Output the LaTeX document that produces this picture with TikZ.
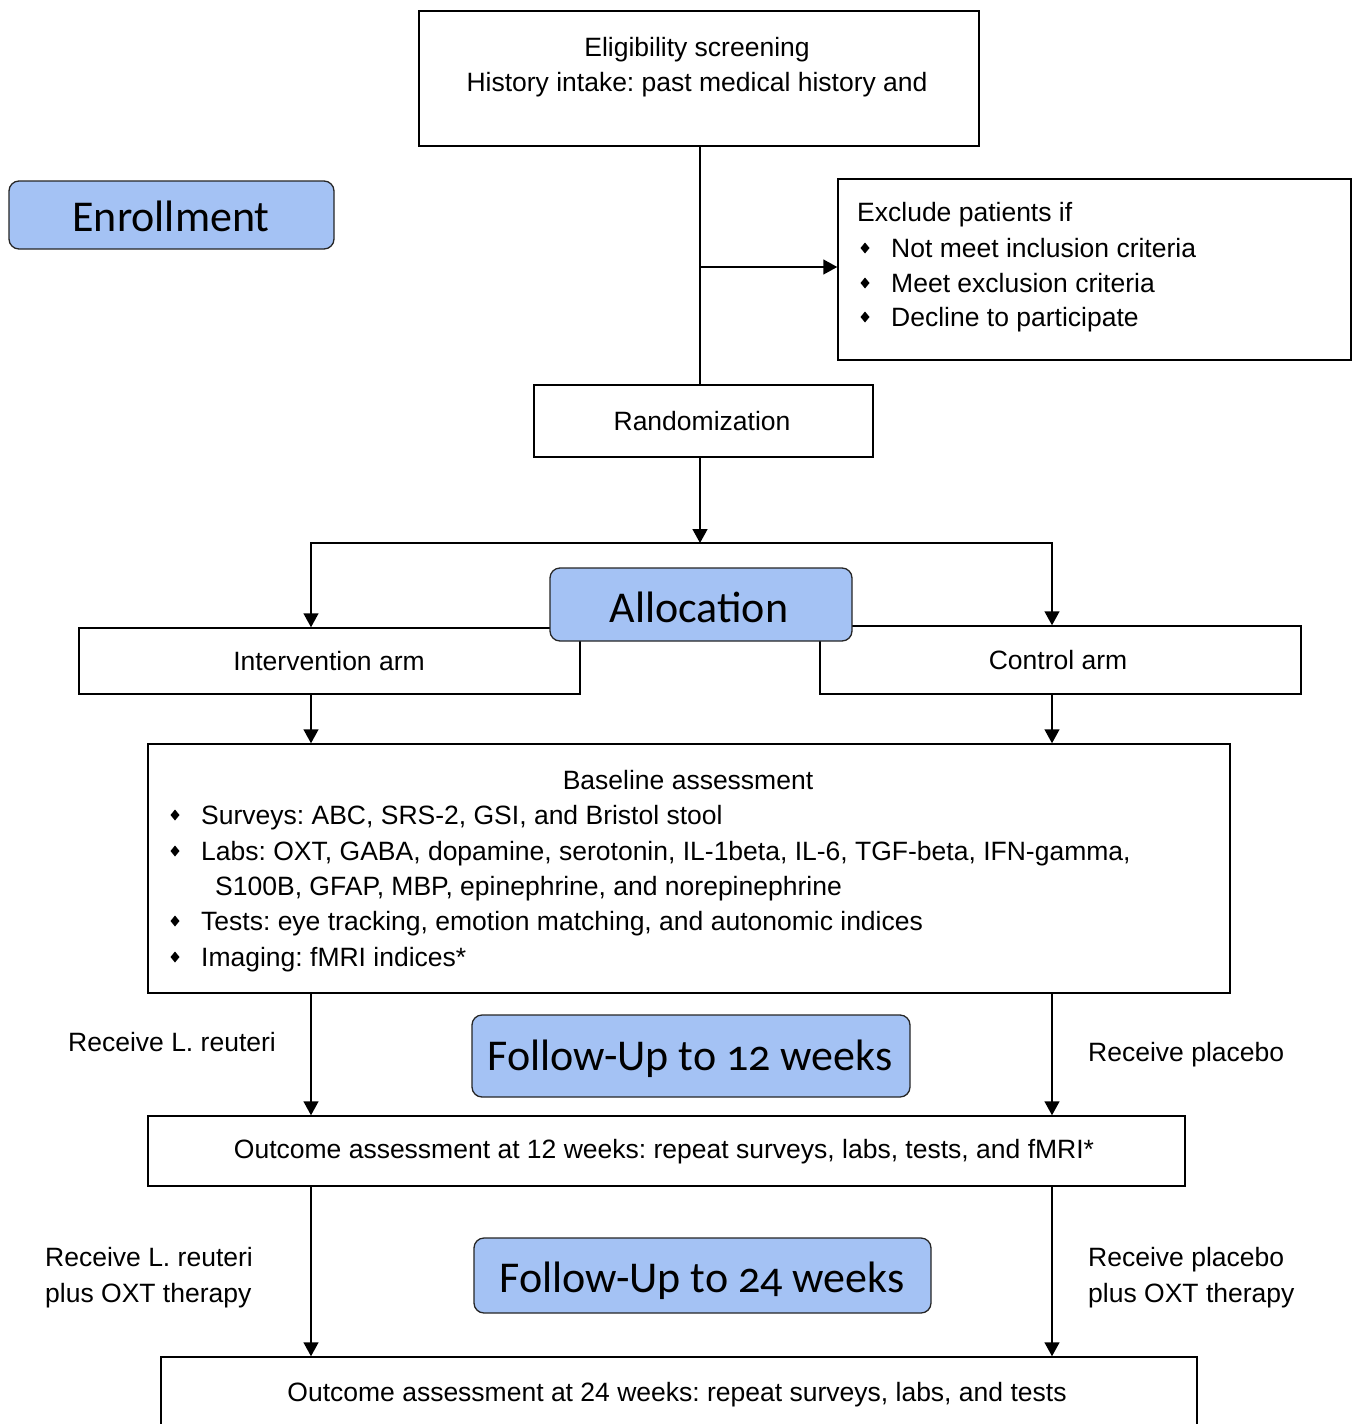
\documentclass[tikz,border=0pt]{standalone}
\usepackage{fontspec}
\setmainfont{Liberation Sans}
\newfontfamily\calfont[Numbers=OldStyle]{Carlito}
\usetikzlibrary{arrows.meta}
\definecolor{bluefill}{HTML}{A4C2F4}
\newcommand\bul[1]{\fill (#1) ++(0,-5.5) -- ++(4.5,5.5) -- ++(-4.5,5.5) -- ++(-4.5,-5.5) -- cycle;}
\frenchspacing
\begin{document}
\begin{tikzpicture}[x=1pt,y=-1pt,
  box/.style={draw=black, line width=1.5pt, inner sep=0pt},
  bluebox/.style={draw=black!85, fill=bluefill, rounded corners=10pt, line width=1.3pt, inner sep=0pt},
  txt/.style={inner sep=0pt, font=\frenchspacing\fontsize{26.5}{32}\selectfont},
  big/.style={inner sep=0pt, font=\calfont\fontsize{44}{50}\selectfont},
  conn/.style={line width=1.5pt},
  arr/.style={line width=1.5pt, -{Triangle[width=15pt,length=14pt]}}]
\useasboundingbox (0,0) rectangle (1354,1424);
\fill[white] (0,0) rectangle (1354,1424);

% helper coordinates for arrow columns
\coordinate (xl) at (311,0);
\coordinate (xr) at (1052,0);

% Eligibility
\node[box, minimum width=560, minimum height=135] (elig) at (699,78.5) {};
\node[txt, anchor=base] (elig1) at (697,56.5) {Eligibility screening};
\node[txt, anchor=base] (elig2) at (697,91.5) {History intake: past medical history and};

% Enrollment
\node[bluebox, minimum width=325, minimum height=68] (enr) at (171.5,215) {};
\node[big, anchor=base] (enrt) at (171,231) {Enrollment};

% Exclude
\node[box, minimum width=513, minimum height=181] (excl) at (1094.5,269.5) {};
\node[txt, anchor=base west] (ex0) at (857,221.5) {Exclude patients if};
\bul{865,248}
\node[txt, anchor=base west] (ex1) at (891,257.5) {Not meet inclusion criteria};
\bul{865,283}
\node[txt, anchor=base west] (ex2) at (891,292.5) {Meet exclusion criteria};
\bul{865,317}
\node[txt, anchor=base west] (ex3) at (891,326.5) {Decline to participate};

% Randomization
\node[box, minimum width=339, minimum height=72] (rand) at (703.5,421) {};
\node[txt, anchor=base] (randt) at (702,430.5) {Randomization};

% arms
\node[box, minimum width=501, minimum height=66] (int) at (329.5,661) {};
\node[txt, anchor=base] (intt) at (329,670.5) {Intervention arm};
\node[box, minimum width=481, minimum height=68] (ctl) at (1060.5,660) {};
\node[txt, anchor=base] (ctlt) at (1058,669.5) {Control arm};

% Allocation (on top of arms)
\node[bluebox, minimum width=302, minimum height=73] (alloc) at (701,604.5) {};
\node[big, anchor=base] (alloct) at (699,622) {Allocation};

% Baseline
\node[box, minimum width=1082, minimum height=249] (base) at (689,868.5) {};
\node[txt, anchor=base] (b0) at (688,789.5) {Baseline assessment};
\bul{175,815}
\node[txt, anchor=base west] (b1) at (201,824.5) {Surveys: ABC, SRS-2, GSI, and Bristol stool};
\bul{175,851}
\node[txt, anchor=base west] (b2) at (201,860.5) {Labs: OXT, GABA, dopamine, serotonin, IL-1beta, IL-6, TGF-beta, IFN-gamma,};
\node[txt, anchor=base west] (b2b) at (215,895.5) {S100B, GFAP, MBP, epinephrine, and norepinephrine};
\bul{175,921}
\node[txt, anchor=base west] (b3) at (201,930.5) {Tests: eye tracking, emotion matching, and autonomic indices};
\bul{175,957}
\node[txt, anchor=base west] (b4) at (201,966.5) {Imaging: fMRI indices*};

% Follow-up 12
\node[txt, anchor=base west] (rl1) at (68,1051.5) {Receive L. reuteri};
\node[txt, anchor=base west] (rp1) at (1088,1061.5) {Receive placebo};
\node[bluebox, minimum width=438, minimum height=82] (fu12) at (691,1056) {};
\node[big, anchor=base] (fu12t) at (690,1070) {Follow-Up to 12 weeks};

% Outcome 12
\node[box, minimum width=1037, minimum height=70] (out12) at (666.5,1151) {};
\node[txt, anchor=base] (out12t) at (664,1158.5) {Outcome assessment at 12 weeks: repeat surveys, labs, tests, and fMRI*};

% Follow-up 24
\node[txt, anchor=base west] (rl2a) at (45,1266.5) {Receive L. reuteri};
\node[txt, anchor=base west] (rl2b) at (45,1302.5) {plus OXT therapy};
\node[txt, anchor=base west] (rp2a) at (1088,1266.5) {Receive placebo};
\node[txt, anchor=base west] (rp2b) at (1088,1302.5) {plus OXT therapy};
\node[bluebox, minimum width=457, minimum height=75] (fu24) at (702.5,1275.5) {};
\node[big, anchor=base] (fu24t) at (702,1292) {Follow-Up to 24 weeks};

% Outcome 24
\node[box, minimum width=1036, minimum height=84] (out24) at (679,1399) {};
\node[txt, anchor=base] (out24t) at (677,1401.5) {Outcome assessment at 24 weeks: repeat surveys, labs, and tests};

% connectors
\coordinate (br) at (700,267);
\coordinate (split) at (700,543);
\draw[conn] (elig.south -| br) -- (rand.north -| br);
\draw[arr] (br) -- (br -| excl.west);
\draw[arr] (rand.south -| split) -- (split);
\draw[arr] (split) -| (int.north -| xl);
\draw[arr] (split) -| (ctl.north -| xr);
\draw[arr] (int.south -| xl) -- (base.north -| xl);
\draw[arr] (ctl.south -| xr) -- (base.north -| xr);
\draw[arr] (base.south -| xl) -- (out12.north -| xl);
\draw[arr] (base.south -| xr) -- (out12.north -| xr);
\draw[arr] (out12.south -| xl) -- (out24.north -| xl);
\draw[arr] (out12.south -| xr) -- (out24.north -| xr);
\end{tikzpicture}
\end{document}
